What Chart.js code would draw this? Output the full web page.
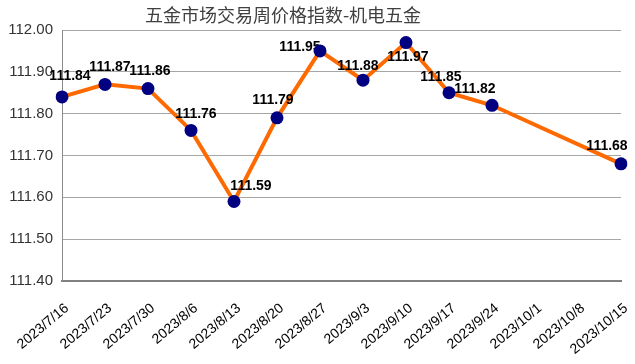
<!DOCTYPE html>
<html>
<head>
<meta charset="utf-8">
<script src="https://cdn.jsdelivr.net/npm/chart.js@4.4.0/dist/chart.umd.min.js"></script>
<style>
  html, body { margin: 0; padding: 0; background: #fff; }
  #wrap { width: 635px; height: 364px; }
</style>
</head>
<body>
<div id="wrap"><canvas id="chart"></canvas></div>
<script>
// === Data ===
const chartTitle = '五金市场交易周价格指数-机电五金';
const weeks = ['2023/7/16', '2023/7/23', '2023/7/30', '2023/8/6', '2023/8/13', '2023/8/20', '2023/8/27',
  '2023/9/3', '2023/9/10', '2023/9/17', '2023/9/24', '2023/10/1', '2023/10/8', '2023/10/15'];
const priceIndex = [111.84, 111.87, 111.86, 111.76, 111.59, 111.79, 111.95,
  111.88, 111.97, 111.85, 111.82, null, null, 111.68];
const yTicks = [111.40, 111.50, 111.60, 111.70, 111.80, 111.90, 112.00];

// label nudges (px) so the value text sits like in the original
const labelDx = [8, 5, 2, 5, 17, -4, -20, -5, 2, -8, -17, 0, 0, -14];
const labelDy = [-21, -17, -17, -16, -15, -18, -4, -14, 15, -16, -16, 0, 0, -18];

// === Plugins ===
const titlePlugin = {
  id: 'plainTitle',
  afterDraw(chart) {
    const ctx = chart.ctx;
    ctx.save();
    ctx.font = '18px "Noto Sans CJK SC"';
    ctx.fillStyle = '#404040';
    ctx.textAlign = 'center';
    ctx.textBaseline = 'middle';
    ctx.fillText(chartTitle, 283, 15);
    ctx.restore();
  }
};

const valueLabels = {
  id: 'valueLabels',
  afterDatasetDraw(chart, args) {
    if (args.index !== 0) return;
    const ctx = chart.ctx;
    const meta = args.meta;
    ctx.save();
    ctx.font = 'bold 14px "Liberation Sans"';
    ctx.fillStyle = '#000';
    ctx.textAlign = 'center';
    ctx.textBaseline = 'middle';
    meta.data.forEach((pt, i) => {
      const v = priceIndex[i];
      if (v === null) return;
      ctx.fillText(v.toFixed(2), pt.x + labelDx[i], pt.y + labelDy[i]);
    });
    ctx.restore();
  }
};

// === Chart ===
new Chart(document.getElementById('chart'), {
  type: 'line',
  data: {
    labels: weeks,
    datasets: [{
      data: priceIndex,
      borderColor: '#ff6a00',
      borderWidth: 4,
      pointRadius: 0,
      spanGaps: true,
      tension: 0,
      order: 1
    }, {
      data: priceIndex,
      showLine: false,
      pointRadius: 6.5,
      pointBackgroundColor: '#000080',
      pointBorderColor: '#000080',
      pointBorderWidth: 0,
      order: 0
    }]
  },
  options: {
    responsive: true,
    maintainAspectRatio: false,
    animation: false,
    layout: { padding: { top: 30, right: 14, left: 0, bottom: 0 } },
    plugins: {
      legend: { display: false },
      tooltip: { enabled: false }
    },
    scales: {
      x: {
        offset: false,
        grid: { display: false },
        border: { color: '#808080', width: 2 },
        ticks: {
          autoSkip: false,
          minRotation: 40,
          maxRotation: 40,
          padding: 11,
          labelOffset: 5,
          color: '#000',
          font: { family: '"Liberation Sans"', size: 14 }
        },
        afterFit(scale) {
          scale.height = 83;
          scale.paddingLeft = 0;
          scale.paddingRight = 0;
        }
      },
      y: {
        min: 111.40,
        max: 112.00,
        afterBuildTicks(scale) { scale.ticks = yTicks.map(v => ({ value: v })); },
        grid: { color: '#a6a6a6', lineWidth: 1, drawTicks: false },
        border: { color: '#8c8c8c', width: 1 },
        ticks: {
          padding: 9,
          color: '#333',
          font: { family: '"Liberation Sans"', size: 15 },
          callback: v => Number(v).toFixed(2)
        },
        afterFit(scale) { scale.width = 62; }
      }
    }
  },
  plugins: [titlePlugin, valueLabels]
});
</script>
</body>
</html>
